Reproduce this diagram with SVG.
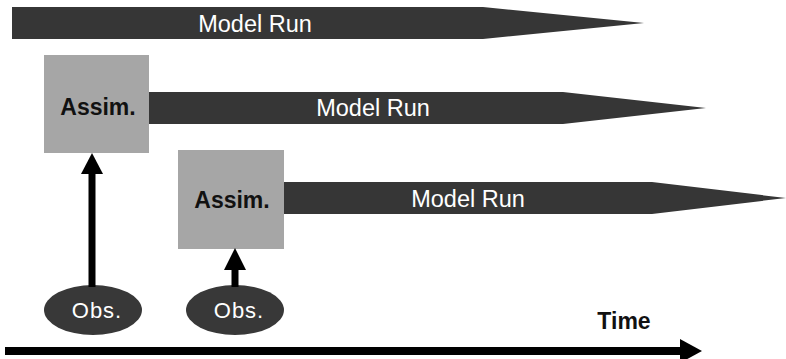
<svg xmlns="http://www.w3.org/2000/svg" width="786" height="359" viewBox="0 0 786 359">
<style>
.bar{fill:#363636;}
.box{fill:#a6a6a6;}
.obs{fill:#383838;}
.wt{fill:#ffffff;font-family:"Liberation Sans",Arial,sans-serif;font-size:23.5px;text-anchor:middle;}
.ot{fill:#ffffff;font-family:"Liberation Sans",Arial,sans-serif;font-size:22px;letter-spacing:1px;text-anchor:middle;}
.bt{fill:#111111;font-family:"Liberation Sans",Arial,sans-serif;font-size:23px;font-weight:bold;text-anchor:middle;}
.ln{stroke:#000;stroke-width:7;fill:none;}
.hd{fill:#000;}
</style>
<g id="run1"><polygon class="bar" points="12,7 483,7 644,23 483,39 12,39"/><text class="wt" x="255" y="32">Model Run</text></g>
<g id="assim1"><rect class="box" x="44" y="55" width="105" height="98"/><text class="bt" x="98" y="115">Assim.</text></g>
<g id="run2"><polygon class="bar" points="149,92 563,92 706,108 563,124 149,124"/><text class="wt" x="373" y="116">Model Run</text></g>
<g id="assim2"><rect class="box" x="178" y="150" width="106" height="99"/><text class="bt" x="232" y="208">Assim.</text></g>
<g id="run3"><polygon class="bar" points="284,182 652,182 786,198 652,214 284,214"/><text class="wt" x="468" y="207">Model Run</text></g>
<g id="obs1"><ellipse class="obs" cx="93" cy="310" rx="49" ry="25"/><text class="ot" x="97" y="318">Obs.</text></g>
<g id="obs2"><ellipse class="obs" cx="235" cy="310" rx="49" ry="25"/><text class="ot" x="239" y="318">Obs.</text></g>
<g id="timelabel"><text class="bt" x="624" y="329">Time</text></g>
<g id="connectors">
<line class="ln" x1="92" y1="287" x2="92" y2="170"/><polygon class="hd" points="92,153 103,174 81,174"/>
<line class="ln" x1="235" y1="287" x2="235" y2="266"/><polygon class="hd" points="235,248 246,270 224,270"/>
<line x1="5" y1="351" x2="682" y2="351" stroke="#000" stroke-width="8"/><polygon class="hd" points="680,339 702,351 680,363"/>
</g>
</svg>
